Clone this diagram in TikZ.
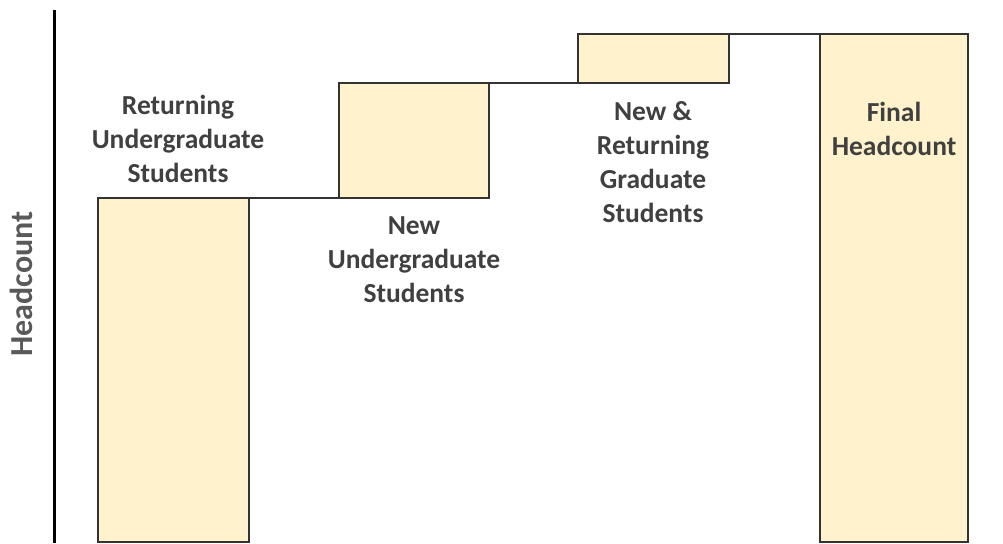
\documentclass[tikz,border=0pt]{standalone}
\usepackage{fontspec}
\setmainfont{Carlito}
\definecolor{barfill}{HTML}{FFF2CC}
\definecolor{txt}{HTML}{404040}
\definecolor{axtxt}{HTML}{595959}
\definecolor{edge}{HTML}{333333}
\begin{document}
\begin{tikzpicture}[x=1pt,y=-1pt,
  bar/.style={draw=edge, line width=2pt, fill=barfill, anchor=north west, inner sep=0pt, outer sep=0pt},
  lbl/.style={text=txt, font=\fontsize{27.5}{34}\selectfont\bfseries, align=center, inner sep=0pt},
  link/.style={draw=edge, line width=1.5pt}]
\useasboundingbox (0,0) rectangle (1003,543);
% axis
\coordinate (axtop) at (54,10);
\coordinate (axbot) at (54,543);
\draw[line width=3pt, black] (axtop) -- (axbot);
\node[text=axtxt, font=\fontsize{32}{38}\selectfont\bfseries, inner sep=0pt, rotate=90] (ylab) at (21,284) {Headcount};
% bars
\node[bar, minimum width=151pt, minimum height=344pt] (b1) at (98,198) {};
\node[bar, minimum width=150pt, minimum height=115pt] (b2) at (339,83) {};
\node[bar, minimum width=151pt, minimum height=49pt] (b3) at (578,34) {};
\node[bar, minimum width=148pt, minimum height=508pt] (b4) at (820,34) {};
% connectors
\draw[link] (b1.north east) -- (b2.south west);
\draw[link] (b2.north east) -- (b3.south west);
\draw[link] (b3.north east) -- (b4.north west);
% labels
\node[lbl] (l1) at (178,139) {Returning\\Undergraduate\\Students};
\node[lbl] (l2) at (414,260) {New\\Undergraduate\\Students};
\node[lbl] (l3) at (653,162) {New \&\\Returning\\Graduate\\Students};
\node[lbl] (l4) at (894,129) {Final\\Headcount};
\end{tikzpicture}
\end{document}
